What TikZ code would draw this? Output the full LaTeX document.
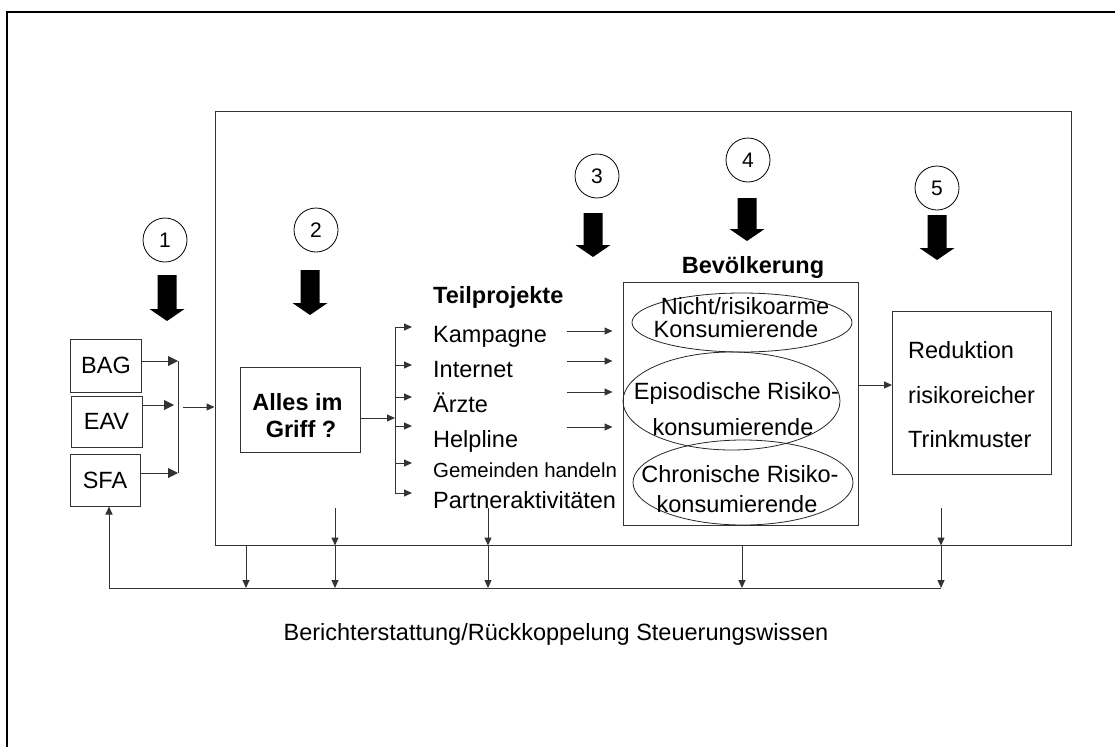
\documentclass[tikz,border=0pt]{standalone}
\usepackage{fontspec}
\setmainfont{Liberation Sans}
\usetikzlibrary{arrows.meta,shapes.geometric}
% thick black arrow: x, top, tip
\newcommand{\bigarrow}[3]{%
  \fill (#1-9.5,#2) -- (#1+9.5,#2) -- (#1+9.5,#3-12) -- (#1+17.5,#3-12)
    -- (#1,#3) -- (#1-17.5,#3-12) -- (#1-9.5,#3-12) -- cycle;}
\tikzset{
  lbl/.style={font=\fontsize{23.5}{28}\selectfont, inner sep=0pt},
  hdr/.style={inner sep=0pt, font=\fontsize{23.5}{28}\selectfont\bfseries},
  blk/.style={draw=black!80, line width=1pt, inner sep=0pt},
  oval/.style={draw=black!85, line width=0.8pt, ellipse, inner sep=0pt},
  num/.style={draw, circle, line width=0.8pt, minimum size=44pt, inner sep=0pt,
    font=\fontsize{21}{24}\selectfont},
  arr/.style={draw=black!80, line width=1pt, -{Triangle[length=8pt,width=7pt]}},
  arrL/.style={arr, -{Triangle[length=10pt,width=10pt]}},
}
\begin{document}
\begin{tikzpicture}[x=1pt,y=-1pt]
\useasboundingbox (0,0) rectangle (1115,747);

%%% frames
\draw[line width=2pt] (7,747) -- (7,12) -- (1115,12);
\node[blk, minimum width=856pt, minimum height=434pt] (frame) at (643,328) {};

%%% numbers and big arrows
\foreach \n/\x/\y in {1/165/240, 2/316/230, 3/597/176, 4/748/160, 5/937/188}
  \node[num] (c\n) at (\x,\y) {\n};
\foreach \ax/\at/\ab in {167/275/321, 310/270/315, 593/213/257, 747/198/241, 937/215/260}
  {\bigarrow{\ax}{\at}{\ab}}

%%% sponsors
\node[blk, lbl, minimum width=71pt, minimum height=53pt] (bag) at (106,365.5) {BAG};
\node[blk, lbl, minimum width=71pt, minimum height=51pt] (eav) at (106.5,421.5) {EAV};
\node[blk, lbl, minimum width=70pt, minimum height=52pt] (sfa) at (105,480) {SFA};
\coordinate (jtop) at (178,361);
\coordinate (jbot) at (178,473);
\draw[draw=black!80, line width=1pt] (jtop) -- (jbot);
\draw[arrL] (bag.east |- jtop) -- (jtop);
\draw[arrL] (eav.east |- 0,405) -- (174,405);
\draw[arrL] (sfa.east |- jbot) -- (jbot);
\draw[arr] (183,407) -- (frame.west |- 0,407);

%%% Alles im Griff
\node[blk, minimum width=120pt, minimum height=85pt] (griff) at (300,409.5) {};
\node[hdr, anchor=base] (g1) at (297.5,410) {Alles im};
\node[hdr, anchor=base] (g2) at (301,437) {Griff ?};

%%% Teilprojekte
\node[hdr, anchor=base west] (tp) at (433,303) {Teilprojekte};
\node[lbl, anchor=base west] (kamp) at (433,342) {Kampagne};
\node[lbl, anchor=base west] (inet) at (433,377) {Internet};
\node[lbl, anchor=base west] (arzt) at (433,412) {Ärzte};
\node[lbl, anchor=base west] (help) at (433,447) {Helpline};
\node[lbl, anchor=base west, font=\fontsize{20.4}{24}\selectfont] (gem) at (433,477) {Gemeinden handeln};
\node[lbl, anchor=base west] (part) at (433,508) {Partneraktivitäten};
\coordinate (brt) at (395,327);
\coordinate (brb) at (395,493);
\draw[draw=black!80, line width=1pt] (brt) -- (brb);
\foreach \y in {327,365,397,426,463,493}
  \draw[arr] (395,\y) -- (412,\y);
\draw[arr] (griff.east |- 0,418) -- (brt |- 0,418);

%%% Bevoelkerung
\node[blk, minimum width=235pt, minimum height=243pt] (pop) at (740.5,403.5) {};
\node[hdr, anchor=base] (bev) at (753,273) {Bevölkerung};
\node[oval, minimum width=220pt, minimum height=59pt] (e1) at (742,322.5) {};
\node[oval, minimum width=217pt, minimum height=98pt] (e2) at (731.5,401) {};
\node[oval, minimum width=220pt, minimum height=85pt] (e3) at (743,482.5) {};
\node[lbl, anchor=base] (t1a) at (745,314) {Nicht/risikoarme};
\node[lbl, anchor=base] (t1b) at (736,337) {Konsumierende};
\node[lbl, anchor=base] (t2a) at (736.5,399) {Episodische Risiko-};
\node[lbl, anchor=base] (t2b) at (733,435) {konsumierende};
\node[lbl, anchor=base] (t3a) at (740,482) {Chronische Risiko-};
\node[lbl, anchor=base] (t3b) at (737,512) {konsumierende};
\foreach \y in {331,361,392,427}
  \draw[arr] (567,\y) -- ([xshift=-10pt]pop.west |- 0,\y);

%%% Reduktion
\node[blk, minimum width=159pt, minimum height=163pt] (red) at (972,393) {};
\node[lbl, anchor=base west] (r1) at (908,358) {Reduktion};
\node[lbl, anchor=base west] (r2) at (908,403) {risikoreicher};
\node[lbl, anchor=base west] (r3) at (908,447) {Trinkmuster};
\draw[arr] (pop.east |- 0,385) -- (red.west |- 0,385);

%%% feedback
\coordinate (fb) at (0,588);
\foreach \x in {246,742}
  \draw[arr] (frame.south -| \x,0) -- (fb -| \x,0);
\foreach \x in {335,488,941} {
  \draw[arr] (\x,508) -- (frame.south -| \x,0);
  \draw[arr] (frame.south -| \x,0) -- (fb -| \x,0);
}
\draw[arr] (fb -| 941,0) -- (fb -| 109,0) -- (sfa.south -| 109,0);
\node[lbl, anchor=base] (rep) at (556,640) {Berichterstattung/Rückkoppelung Steuerungswissen};
\end{tikzpicture}
\end{document}
